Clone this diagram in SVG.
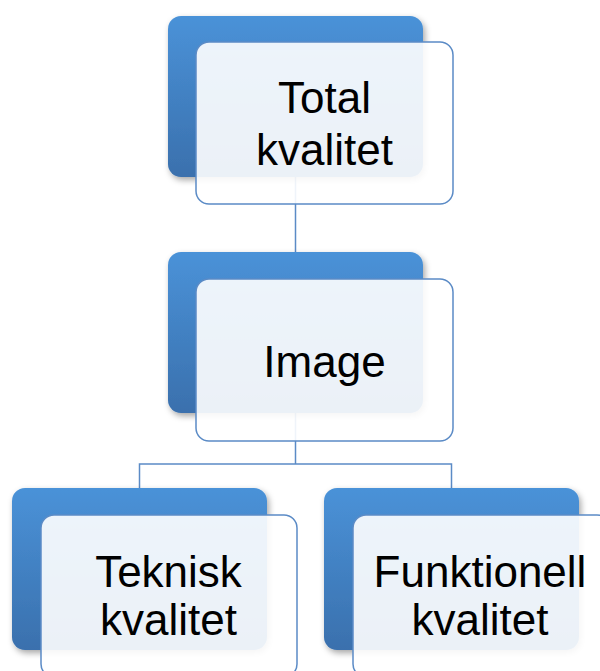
<svg xmlns="http://www.w3.org/2000/svg" width="600" height="671" viewBox="0 0 600 671">
<style>
.back{fill:url(#bg);filter:url(#sh)}
.front{fill:#ffffff;fill-opacity:0.9;stroke:#5b8bc6;stroke-width:1.5}
.lbl{font-family:"Liberation Sans",Arial,sans-serif;font-size:44px;fill:#000;text-anchor:middle}
.conn{fill:none;stroke:#5b8bc6;stroke-width:1.5}
</style>
<defs>
<linearGradient id="bg" x1="0" y1="0" x2="0" y2="1">
<stop offset="0" stop-color="#4a92d8"/>
<stop offset="1" stop-color="#3a70ad"/>
</linearGradient>
<filter id="sh" x="-10%" y="-10%" width="125%" height="130%">
<feDropShadow dx="2" dy="3" stdDeviation="3" flood-color="#000" flood-opacity="0.35"/>
</filter>
</defs>
<rect width="600" height="671" fill="#ffffff"/>
<g id="connectors">
<path class="conn" d="M295.5,177 V252"/>
<path class="conn" d="M295.5,413 V464 M139.5,488 V464 H451.5 V488"/>
</g>
<g id="node-total">
<rect class="back" x="168" y="16" width="255" height="161" rx="13"/>
<rect class="front" x="196" y="42" width="257" height="162" rx="13"/>
<text class="lbl" x="324.5" y="113">Total</text>
<text class="lbl" x="324.5" y="165">kvalitet</text>
</g>
<g id="node-image">
<rect class="back" x="168" y="252" width="255" height="161" rx="13"/>
<rect class="front" x="196" y="279" width="257" height="162" rx="13"/>
<text class="lbl" x="324.5" y="377">Image</text>
</g>
<g id="node-teknisk">
<rect class="back" x="12" y="488" width="255" height="162" rx="13"/>
<rect class="front" x="41" y="515" width="256" height="162" rx="13"/>
<text class="lbl" x="168.5" y="587">Teknisk</text>
<text class="lbl" x="168.5" y="635">kvalitet</text>
</g>
<g id="node-funktionell">
<rect class="back" x="324" y="488" width="255" height="162" rx="13"/>
<rect class="front" x="353" y="515" width="257" height="162" rx="13"/>
<text class="lbl" x="480" y="587">Funktionell</text>
<text class="lbl" x="480" y="635">kvalitet</text>
</g>
</svg>
